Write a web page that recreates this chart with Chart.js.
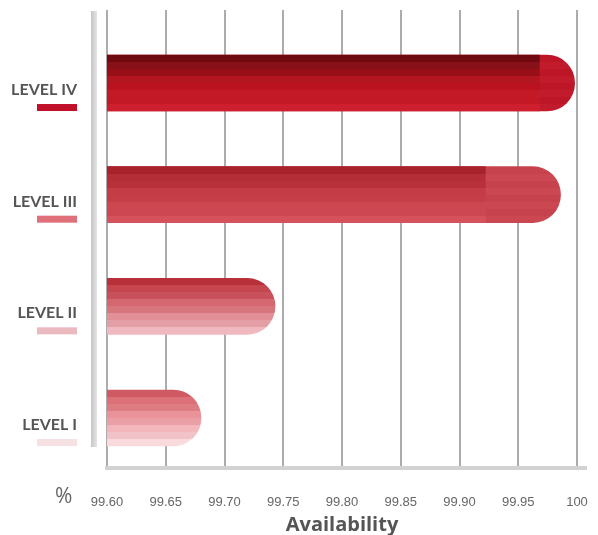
<!DOCTYPE html>
<html>
<head>
<meta charset="utf-8">
<script src="https://cdn.jsdelivr.net/npm/chart.js@4/dist/chart.umd.min.js"></script>
<style>
html,body{margin:0;padding:0;background:#ffffff;}
#wrap{width:598px;height:535px;position:relative;}
</style>
</head>
<body>
<div id="wrap"><canvas id="c"></canvas></div>
<script>
// ---- data ----
const categories = ['LEVEL I', 'LEVEL II', 'LEVEL III', 'LEVEL IV'];
const availability = [99.680, 99.743, 99.986, 99.998];      // bar ends
const coreAvailability = [null, null, 99.922, 99.968];       // darker inner segment ends
const xTicks = [99.60, 99.65, 99.70, 99.75, 99.80, 99.85, 99.90, 99.95, 100];
const axisStart = 99.60;
const axisEnd = 100;
const unitLabel = '%';
const axisTitle = 'Availability';

// ---- styling ----
const swatchColors = ['#f5e0e2', '#eab8bf', '#df707a', '#c0102a'];
const barShades = [
  ['#d05a64', '#e8959c', '#f4d6d9'],
  ['#b8303a', '#d46a73', '#ebb4bb'],
  ['#a8222c', '#c23a44', '#d04c57'],
  ['#6e0a10', '#b8121e', '#c81a28']
];
const capShades = [null, null, '#c6434d', '#bd1626'];
const BAR = 56;

function hex2rgb(h){h=h.replace('#','');return [parseInt(h.substr(0,2),16),parseInt(h.substr(2,2),16),parseInt(h.substr(4,2),16)];}
function mix(a,b,t){return a.map((v,i)=>Math.round(v+(b[i]-v)*t));}
function rgb(c){return 'rgb('+c[0]+','+c[1]+','+c[2]+')';}
function shadeAt(stops,t){
  const c=stops.map(hex2rgb);
  if(c.length===1) return c[0];
  if(t<=0.5) return mix(c[0],c[1],t/0.5);
  return mix(c[1],c[2],(t-0.5)/0.5);
}
function bandGradient(chart, idx, stops){
  const y = chart.scales.y.getPixelForValue(idx);
  const y0 = y - BAR/2, y1 = y + BAR/2;
  const g = chart.ctx.createLinearGradient(0, y0, 0, y1);
  const n = 8;
  for(let k=0;k<n;k++){
    let c = shadeAt(stops, k/(n-1));
    if(k%2===1) c = c.map(v=>Math.min(255, v+5));
    const s = k/n, e = (k+1)/n;
    g.addColorStop(s, rgb(c));
    g.addColorStop(Math.max(s, e-0.001), rgb(c));
  }
  return g;
}

const coreData = [];
const totalData = [];
categories.forEach((c,i)=>{
  totalData.push({x:[axisStart, availability[i]], y:i});
  if(coreAvailability[i]!==null) coreData.push({x:[axisStart, coreAvailability[i]], y:i});
});

const decor = {
  id:'decor',
  afterDatasetsDraw(chart){
    const ctx = chart.ctx, a = chart.chartArea, ys = chart.scales.y;
    ctx.save();
    // left thick rule
    const lg = ctx.createLinearGradient(a.left-16,0,a.left-10,0);
    lg.addColorStop(0,'#c6c6c6'); lg.addColorStop(1,'#e4e4e4');
    ctx.fillStyle = lg;
    ctx.fillRect(a.left-16, a.top+1, 6, 436);
    // bottom thick rule
    ctx.fillStyle = '#d2d2d2';
    ctx.fillRect(a.left-2, a.bottom-1, (a.right-a.left)+12, 4);
    // swatches under labels
    categories.forEach((c,i)=>{
      const p = ys.getPixelForValue(i);
      ctx.fillStyle = swatchColors[i];
      ctx.fillRect(a.left-70, p+21, 40, 7);
    });
    // unit sign
    ctx.fillStyle = '#666666';
    ctx.font = '400 21px "Open Sans"';
    ctx.textAlign = 'left';
    ctx.textBaseline = 'alphabetic';
    ctx.fillText(unitLabel, 55, 503);
    ctx.restore();
  }
};

new Chart(document.getElementById('c'), {
  type:'bar',
  data:{
    datasets:[
      {
        label:'core',
        data: coreData,
        barThickness: BAR,
        grouped:false,
        borderSkipped:false,
        borderRadius:0,
        backgroundColor:(ctx)=>{
          const ch = ctx.chart; if(!ch.chartArea) return '#c00';
          const i = ctx.raw.y; return bandGradient(ch, i, barShades[i]);
        }
      },
      {
        label:'total',
        data: totalData,
        barThickness: BAR,
        grouped:false,
        borderSkipped:false,
        borderRadius:{topLeft:0,bottomLeft:0,topRight:BAR/2,bottomRight:BAR/2},
        backgroundColor:(ctx)=>{
          const ch = ctx.chart; if(!ch.chartArea) return '#c00';
          const i = ctx.raw.y;
          if(capShades[i]) return bandGradient(ch, i, [capShades[i]]);
          return bandGradient(ch, i, barShades[i]);
        }
      }
    ]
  },
  options:{
    indexAxis:'y',
    responsive:true,
    maintainAspectRatio:false,
    animation:false,
    layout:{padding:{top:10,right:21,left:7,bottom:0}},
    plugins:{legend:{display:false},tooltip:{enabled:false}},
    scales:{
      x:{
        type:'linear',
        min:axisStart, max:axisEnd,
        afterBuildTicks:(s)=>{ s.ticks = xTicks.map(v=>({value:v})); },
        afterFit:(s)=>{ s.paddingLeft = 0; s.paddingRight = 0; s.height = 68; },
        grid:{color:'#acacac', lineWidth:2, drawTicks:false},
        border:{display:false},
        ticks:{
          padding:28,
          color:'#666666',
          font:{family:'"Liberation Sans", Arial, sans-serif', size:13},
          callback:(v)=> v===100 ? '100' : Number(v).toFixed(2)
        },
        title:{
          display:true, text:axisTitle, color:'#555555',
          font:{family:'"Open Sans"', size:20, weight:'bold', lineHeight:1},
          padding:{top:5,bottom:0}
        }
      },
      y:{
        type:'linear',
        offset:false,
        min:-0.439, max:3.654,
        afterBuildTicks:(s)=>{ s.ticks = categories.map((c,i)=>({value:i})); },
        afterFit:(s)=>{ s.width = 100; s.paddingTop = 0; s.paddingBottom = 0; },
        grid:{display:false, drawTicks:false, offset:false},
        border:{display:false},
        ticks:{
          padding:30,
          labelOffset:7,
          color:'#555555',
          font:{family:'Lato', size:16, weight:'bold'},
          callback:(v)=> categories[v] ?? ''
        }
      }
    }
  },
  plugins:[decor]
});
</script>
</body>
</html>
